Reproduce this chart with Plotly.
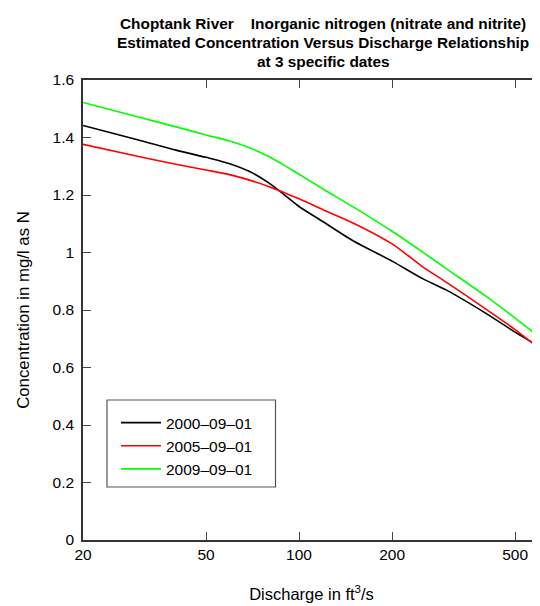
import plotly.graph_objects as go
import math

discharge = [20, 30, 40, 50, 60, 70, 80, 90, 100, 120, 150, 200, 250, 300, 400, 500, 600]
conc_2000 = [1.442, 1.392, 1.356, 1.331, 1.308, 1.279, 1.241, 1.199, 1.160, 1.106, 1.040, 0.970, 0.910, 0.869, 0.790, 0.723, 0.672]
conc_2005 = [1.376, 1.335, 1.307, 1.287, 1.270, 1.250, 1.229, 1.207, 1.187, 1.148, 1.102, 1.030, 0.952, 0.896, 0.805, 0.732, 0.665]
conc_2009 = [1.522, 1.472, 1.437, 1.409, 1.387, 1.362, 1.333, 1.302, 1.272, 1.220, 1.158, 1.074, 1.003, 0.943, 0.850, 0.772, 0.706]
series_names = ["2000\u201309\u201301", "2005\u201309\u201301", "2009\u201309\u201301"]
series_colors = ["#000000", "#ff0000", "#00ff00"]
x_ticks = [20, 50, 100, 200, 500]
y_ticks = [0, 0.2, 0.4, 0.6, 0.8, 1.0, 1.2, 1.4, 1.6]
y_ticktext = ["0", "0.2", "0.4", "0.6", "0.8", "1", "1.2", "1.4", "1.6"]
title_lines = ["Choptank River\u00a0\u00a0\u00a0\u00a0Inorganic nitrogen (nitrate and nitrite)",
               "Estimated Concentration Versus Discharge Relationship",
               "at 3 specific dates"]

FONT = "Liberation Sans, Arial, Helvetica, sans-serif"
OFF = 8  # the page body offsets the figure by 8 px
W, H = 540 - OFF, 606 - OFF
X0, X1, Y0, Y1 = 83, 540, 80, 540  # plot area in window pixels
L, R, T, B = X0 - OFF, (540 - X1), Y0 - OFF, 606 - Y1
PW, PH = X1 - X0, Y1 - Y0

def py(ypix):
    return (Y1 - ypix) / PH

def px(xpix):
    return (xpix - X0) / PW

fig = go.Figure()
for name, vals, col in zip(series_names, [conc_2000, conc_2005, conc_2009], series_colors):
    fig.add_trace(go.Scatter(x=discharge, y=vals, mode="lines", name=name,
                             line=dict(color=col, width=1.6, shape="spline", smoothing=0.8)))

annotations = []
for ypos, line in zip([23.5, 42.5, 61.5], title_lines):
    annotations.append(dict(text="<b>" + line + "</b>", xref="paper", yref="paper",
                            x=px(323), y=py(ypos), xanchor="center", yanchor="middle",
                            showarrow=False, font=dict(family=FONT, size=15.4, color="black")))

fig.update_layout(
    width=W, height=H,
    margin=dict(l=L, r=R, t=T, b=B, autoexpand=False),
    paper_bgcolor="white", plot_bgcolor="white",
    font=dict(family=FONT, size=15, color="black"),
    annotations=annotations,
    showlegend=True,
    legend=dict(x=px(116), y=py(406), xanchor="left", yanchor="top",
                bgcolor="rgba(0,0,0,0)", borderwidth=0, itemwidth=40,
                font=dict(family=FONT, size=15.5), tracegroupgap=0),
    shapes=[dict(type="rect", xref="paper", yref="paper",
                 x0=px(107), x1=px(275.5), y0=py(487), y1=py(400),
                 line=dict(color="#555555", width=1.2), fillcolor="rgba(0,0,0,0)")],
)

fig.update_xaxes(
    type="log", range=[math.log10(20), math.log10(602)], automargin=False,
    tickvals=x_ticks, ticktext=[str(v) for v in x_ticks],
    ticks="inside", ticklen=8, tickcolor="#444444", tickwidth=1,
    showline=True, linecolor="#333333", linewidth=1.5, mirror="ticks",
    showgrid=False, zeroline=False,
    tickfont=dict(size=15.5), ticklabelstandoff=0,
    title=dict(text="Discharge in ft<sup>3</sup>/s", font=dict(size=16.5), standoff=26),
)
fig.update_yaxes(
    range=[0, 1.6], tickvals=y_ticks, ticktext=y_ticktext, automargin=False,
    ticks="inside", ticklen=8, tickcolor="#444444", tickwidth=1,
    showline=True, linecolor="#333333", linewidth=1.5, mirror=False,
    showgrid=False, zeroline=False,
    tickfont=dict(size=15.5), ticklabelstandoff=4,
    title=dict(text="Concentration in mg/l as N", font=dict(size=16.8), standoff=19),
)

fig.write_html("out.html", post_script="document.body.style.overflow='hidden';")
